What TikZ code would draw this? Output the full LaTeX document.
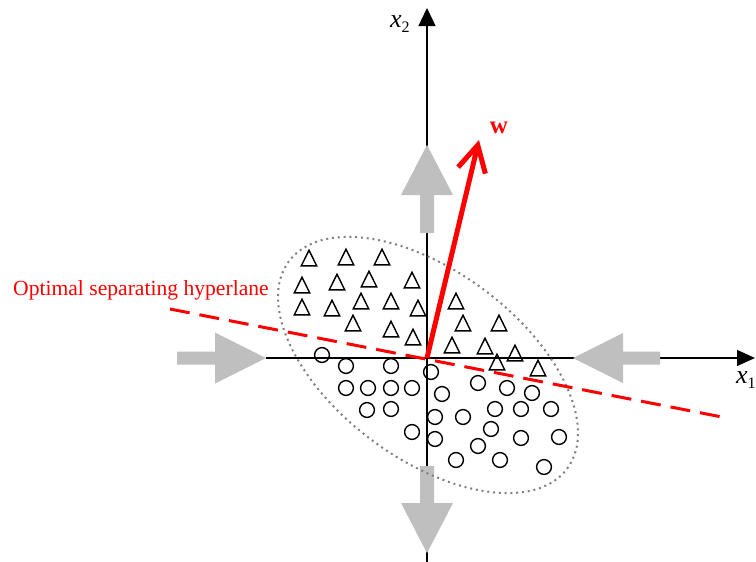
\documentclass[tikz,border=0pt]{standalone}
\usepackage{fontspec}
\setmainfont{Liberation Serif}
\usetikzlibrary{arrows.meta}
\begin{document}
\begin{tikzpicture}[x=1pt,y=-1pt,
  axis/.style={line width=1.3pt, black},
  garrow/.style={fill=black!25, draw=none},
  hyper/.style={red, line width=3pt, dash pattern=on 20pt off 10pt},
  wvec/.style={red, line width=5pt, -{Straight Barb[length=26pt,width=28pt]}},
  ell/.style={draw=black!50, line width=2pt, dash pattern=on 2pt off 3.8pt},
  mk/.style={black, line width=1.4pt},
  lbl/.style={inner sep=0pt},
  tri/.pic={\draw[mk] (-7.7,7.8) -- (0,-7.8) -- (7.7,7.8) -- cycle;},
  circ/.pic={\draw[mk] (0,0) circle[radius=7.4pt];}
]
\useasboundingbox (0,0) rectangle (756,562);
% coordinates
\coordinate (O) at (427,358);
\coordinate (ytop) at (427,8);
\coordinate (ybot) at (427,562);
\coordinate (xleft) at (266,358);
\coordinate (xright) at (755,358);
\coordinate (h1) at (170,309);
\coordinate (h2) at (727,418);
\coordinate (wtip) at (479,140);
% axes
\draw[axis, -{Triangle[length=18pt,width=17pt]}] (ybot) -- (ytop);
\draw[axis, -{Triangle[length=18pt,width=16pt]}] (xleft) -- (xright);
% gray arrows
\fill[garrow, shift={(266,358)}, rotate=0]
  (0,0) -- (-51,-25.5) -- (-51,-6.5) -- (-89,-6.5) -- (-89,6.5) -- (-51,6.5) -- (-51,25.5) -- cycle;
\fill[garrow, shift={(573,358)}, rotate=180]
  (0,0) -- (-50,-25) -- (-50,-6.5) -- (-87,-6.5) -- (-87,6.5) -- (-50,6.5) -- (-50,25) -- cycle;
\fill[garrow, shift={(427,145)}, rotate=90]
  (0,0) -- (-50,-26) -- (-50,-7) -- (-88,-7) -- (-88,7) -- (-50,7) -- (-50,26) -- cycle;
\fill[garrow, shift={(427,553)}, rotate=-90]
  (0,0) -- (-50,-26) -- (-50,-7) -- (-87,-7) -- (-87,7) -- (-50,7) -- (-50,26) -- cycle;
% ellipse
\draw[ell, rotate around={-36.7:(428,365)}] (428,365) ellipse [x radius=173.5pt, y radius=93.8pt];
% triangles
\foreach \px/\py in {309/258,346/257,382/257,
  302/285,337/282,369/279,412/280,
  302/307,332/308,361/301,391/301,418/308,
  353/323,391/329,413/337,
  456/301,463/323,499/323,452/345,485/346,515/353,497/362,538/368}
  \pic at (\px,\py) {tri};
% circles
\foreach \px/\py in {322/355,346/366,391/366,431/372,
  346/388,368/388,391/388,412/388,367/410,391/409,412/432,
  442/394,435/417,463/417,435/439,456/460,
  478/383,507/388,532/393,495/409,521/409,551/409,
  491/429,478/446,521/438,559/437,500/460,544/467}
  \pic at (\px,\py) {circ};
% hyperplane
\draw[hyper] (h1) -- (h2);
% w vector
\draw[wvec] (O) -- (wtip);
% labels
\node[lbl, red, anchor=base west, font=\fontsize{21.6}{24}\selectfont] (hl) at (13,295) {Optimal separating hyperlane};
\node[lbl, red, font=\bfseries\fontsize{25}{26}\selectfont] (wl) at (499,128) {w};
\node[lbl, anchor=west] (x2) at (390,24) {\fontsize{26}{28}\selectfont\textit{x}\raisebox{-5pt}{\fontsize{16}{17}\selectfont 2}};
\node[lbl, anchor=west] (x1) at (736,380) {\fontsize{26}{28}\selectfont\textit{x}\raisebox{-5pt}{\fontsize{16}{17}\selectfont 1}};
\end{tikzpicture}
\end{document}
